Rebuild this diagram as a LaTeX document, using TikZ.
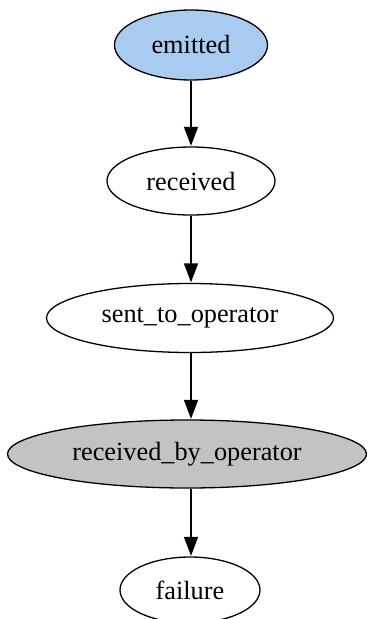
\documentclass[tikz,border=0pt]{standalone}
\usepackage{fontspec}
\setmainfont{Liberation Serif}
\usetikzlibrary{arrows.meta,shapes.geometric}
\definecolor{startblue}{HTML}{A9CBF0}
\definecolor{stategray}{HTML}{C3C3C3}
\tikzset{
  state/.style={ellipse, draw=black, line width=1.3pt, fill=white,
    inner sep=0pt, font=\fontsize{26.3}{30}\selectfont},
  flow/.style={-{Triangle[length=19pt,width=14pt]}, line width=1.6pt, shorten >=0.5pt}
}
\begin{document}
\begin{tikzpicture}[x=1pt,y=1pt]
  \useasboundingbox (0,0) rectangle (368,-619);
  \node[state, fill=startblue, minimum width=153pt, minimum height=70pt] (emitted) at (191,-45) {emitted};
  \node[state, minimum width=168pt, minimum height=68pt] (received) at (191,-181) {received};
  \node[state, minimum width=287pt, minimum height=69pt] (sent) at (190,-318) {sent\_to\_operator};
  \node[state, fill=stategray, minimum width=359pt, minimum height=68pt] (rbo) at (187,-454) {received\_by\_operator};
  \node[state, minimum width=140pt, minimum height=66pt] (failure) at (190,-590) {failure};
  % vertical connectors, all on the axis of the top node
  \draw[flow] (emitted.south) -- (received.north);
  \draw[flow] (received.south) -- (received.south |- sent.north);
  \draw[flow] (received.south |- sent.south) -- (received.south |- rbo.north);
  \draw[flow] (received.south |- rbo.south) -- (received.south |- failure.north);
\end{tikzpicture}
\end{document}
